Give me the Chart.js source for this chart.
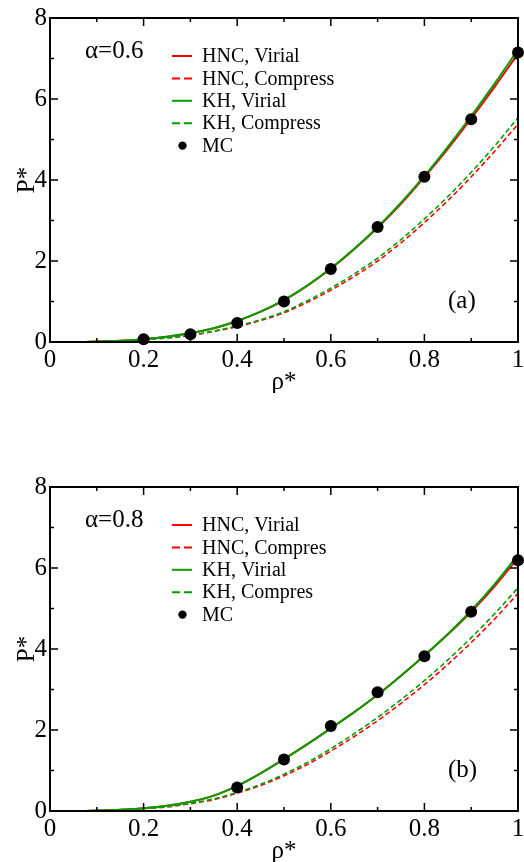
<!DOCTYPE html>
<html>
<head>
<meta charset="utf-8">
<script src="https://cdn.jsdelivr.net/npm/chart.js@4.4.1/dist/chart.umd.min.js"></script>
<style>
  html, body { margin: 0; padding: 0; background: #fff; overflow: hidden; }
  .panel { position: absolute; left: 0; width: 524px; height: 393px; }
</style>
</head>
<body>
<div class="panel" style="top:0"><canvas id="chartA" width="524" height="393"></canvas></div>
<div class="panel" style="top:469px"><canvas id="chartB" width="524" height="393"></canvas></div>
<script>
// density grid used by the theory curves
const rho = [0.08, 0.1, 0.15, 0.2, 0.25, 0.3, 0.35, 0.4, 0.45, 0.5, 0.55, 0.6, 0.65, 0.7, 0.75, 0.8, 0.85, 0.9, 0.95, 1.0];

// panel (a), alpha = 0.6
const hncVirialA   = [0.005, 0.01, 0.03, 0.07, 0.13, 0.22, 0.34, 0.52, 0.75, 1.03, 1.39, 1.81, 2.29, 2.82, 3.41, 4.07, 4.77, 5.52, 6.30, 7.12];
const hncCompressA = [0.005, 0.01, 0.03, 0.06, 0.10, 0.16, 0.26, 0.38, 0.53, 0.72, 0.98, 1.28, 1.62, 2.00, 2.45, 2.95, 3.49, 4.08, 4.71, 5.38];
const khVirialA    = [0.005, 0.01, 0.03, 0.07, 0.13, 0.22, 0.34, 0.52, 0.75, 1.04, 1.40, 1.82, 2.30, 2.84, 3.44, 4.10, 4.82, 5.58, 6.38, 7.22];
const khCompressA  = [0.005, 0.01, 0.03, 0.06, 0.10, 0.17, 0.27, 0.40, 0.55, 0.75, 1.02, 1.33, 1.68, 2.07, 2.53, 3.04, 3.59, 4.19, 4.84, 5.54];
const mcRhoA = [0.2, 0.3, 0.4, 0.5, 0.6, 0.7, 0.8, 0.9, 1.0];
const mcPA   = [0.07, 0.19, 0.47, 1.0, 1.80, 2.84, 4.08, 5.50, 7.15];

// panel (b), alpha = 0.8
const hncVirialB   = [0.005, 0.01, 0.03, 0.07, 0.13, 0.23, 0.38, 0.62, 0.93, 1.28, 1.65, 2.04, 2.44, 2.87, 3.34, 3.84, 4.36, 4.92, 5.55, 6.25];
const hncCompressB = [0.005, 0.01, 0.03, 0.06, 0.10, 0.18, 0.28, 0.44, 0.63, 0.87, 1.15, 1.48, 1.84, 2.23, 2.66, 3.12, 3.62, 4.16, 4.74, 5.37];
const khVirialB    = [0.005, 0.01, 0.03, 0.07, 0.13, 0.23, 0.38, 0.62, 0.93, 1.28, 1.65, 2.04, 2.44, 2.87, 3.34, 3.84, 4.37, 4.95, 5.60, 6.33];
const khCompressB  = [0.005, 0.01, 0.03, 0.06, 0.11, 0.19, 0.30, 0.46, 0.66, 0.91, 1.20, 1.54, 1.91, 2.31, 2.75, 3.22, 3.73, 4.28, 4.87, 5.51];
const mcRhoB = [0.4, 0.5, 0.6, 0.7, 0.8, 0.9, 1.0];
const mcPB   = [0.58, 1.27, 2.10, 2.93, 3.82, 4.92, 6.19];

const xTicks = [0, 0.2, 0.4, 0.6, 0.8, 1];
const yTicks = [0, 2, 4, 6, 8];

const RED = '#ff0000';
const GREEN = '#00a000';
const SERIF = '"Liberation Serif", "DejaVu Serif", serif';

function pts(xs, ys) {
    return xs.map((x, i) => ({ x: x, y: ys[i] }));
}

function curve(label, values, color, dashed, order) {
    return {
        label: label,
        data: pts(rho, values),
        showLine: true,
        borderColor: color,
        backgroundColor: color,
        borderWidth: dashed ? 1.6 : 2,
        borderDash: dashed ? [5, 3] : [],
        pointRadius: 0,
        cubicInterpolationMode: 'monotone',
        order: order
    };
}

// frame, inward ticks, in-plot legend and labels
const decorPlugin = {
    id: 'decor',
    afterDatasetsDraw(chart, args, opts) {
        const ctx = chart.ctx;
        const a = chart.chartArea;
        const xs = chart.scales.x, ys = chart.scales.y;
        ctx.save();
        ctx.strokeStyle = '#000';
        ctx.lineWidth = 1.5;
        ctx.setLineDash([]);
        ctx.beginPath();
        for (let v = 0; v <= 10; v++) {
            const px = xs.getPixelForValue(v / 10);
            const len = v % 2 === 0 ? 8 : 4;
            ctx.moveTo(px, a.bottom); ctx.lineTo(px, a.bottom - len);
            ctx.moveTo(px, a.top); ctx.lineTo(px, a.top + len);
        }
        for (let v = 0; v <= 8; v++) {
            const py = ys.getPixelForValue(v);
            const len = v % 2 === 0 ? 8 : 4;
            ctx.moveTo(a.left, py); ctx.lineTo(a.left + len, py);
            ctx.moveTo(a.right, py); ctx.lineTo(a.right - len, py);
        }
        ctx.stroke();
        ctx.lineWidth = 2;
        ctx.strokeRect(a.left, a.top, a.right - a.left, a.bottom - a.top);

        // legend
        ctx.font = '20px ' + SERIF;
        ctx.textBaseline = 'middle';
        ctx.textAlign = 'left';
        chart.data.datasets.forEach((ds, i) => {
            const y = a.top + 38 + i * 22.4;
            if (ds.showLine) {
                ctx.strokeStyle = ds.borderColor;
                ctx.lineWidth = 2;
                ctx.setLineDash(ds.borderDash.length ? [8, 4] : []);
                ctx.beginPath();
                ctx.moveTo(a.left + 122, y);
                ctx.lineTo(a.left + 142, y);
                ctx.stroke();
            } else {
                ctx.fillStyle = '#000';
                ctx.beginPath();
                ctx.arc(a.left + 132.5, y, 4.2, 0, Math.PI * 2);
                ctx.fill();
            }
            ctx.fillStyle = '#000';
            ctx.fillText(ds.label, a.left + 152, y + 1);
        });

        ctx.font = '25px ' + SERIF;
        ctx.fillText(opts.alpha, a.left + 35, a.top + 33);
        ctx.fillText(opts.tag, a.left + 398, a.bottom - 41);
        ctx.restore();
    }
};

function makePanel(id, sets, alpha, tag) {
    const ctx = document.getElementById(id).getContext('2d');
    return new Chart(ctx, {
        type: 'scatter',
        data: {
            datasets: [
                curve('HNC, Virial', sets[0], RED, false, 2),
                curve(sets.compressLabel[0], sets[1], RED, true, 2),
                curve('KH, Virial', sets[2], GREEN, false, 1),
                curve(sets.compressLabel[1], sets[3], GREEN, true, 1),
                {
                    label: 'MC',
                    data: pts(sets[4], sets[5]),
                    showLine: false,
                    pointRadius: 6,
                    pointHoverRadius: 6,
                    backgroundColor: '#000',
                    borderColor: '#000',
                    borderWidth: 0,
                    clip: false,
                    order: 0
                }
            ]
        },
        options: {
            responsive: false,
            animation: false,
            events: [],
            layout: { padding: { top: 14, right: 6, left: 0, bottom: 0 } },
            scales: {
                x: {
                    type: 'linear', min: 0, max: 1,
                    afterBuildTicks: s => { s.ticks = xTicks.map(v => ({ value: v })); },
                    afterFit: s => { s.height = 51; s.paddingLeft = 0; s.paddingRight = 0; },
                    grid: { display: false, drawTicks: false },
                    border: { display: false },
                    ticks: {
                        autoSkip: false, maxRotation: 0, padding: 3.5, color: '#000',
                        font: { family: SERIF, size: 25 },
                        callback: v => String(Number(v.toFixed(1)))
                    },
                    title: { display: true, text: 'ρ*', color: '#000', padding: { top: 0, bottom: -4 },
                             font: { family: SERIF, size: 25 } }
                },
                y: {
                    type: 'linear', min: 0, max: 8,
                    afterBuildTicks: s => { s.ticks = yTicks.map(v => ({ value: v })); },
                    afterFit: s => { s.width = 50; },
                    grid: { display: false, drawTicks: false },
                    border: { display: false },
                    ticks: {
                        padding: 3, color: '#000',
                        font: { family: SERIF, size: 25 },
                        callback: v => String(v)
                    },
                    title: { display: true, text: 'P*', color: '#000', padding: { top: 12, bottom: 0 },
                             font: { family: SERIF, size: 25 } }
                }
            },
            plugins: {
                legend: { display: false },
                tooltip: { enabled: false },
                decor: { alpha: alpha, tag: tag }
            }
        },
        plugins: [decorPlugin]
    });
}

const setsA = [hncVirialA, hncCompressA, khVirialA, khCompressA, mcRhoA, mcPA];
setsA.compressLabel = ['HNC, Compress', 'KH, Compress'];
const setsB = [hncVirialB, hncCompressB, khVirialB, khCompressB, mcRhoB, mcPB];
setsB.compressLabel = ['HNC, Compres', 'KH, Compres'];

makePanel('chartA', setsA, 'α=0.6', '(a)');
makePanel('chartB', setsB, 'α=0.8', '(b)');
</script>
</body>
</html>
